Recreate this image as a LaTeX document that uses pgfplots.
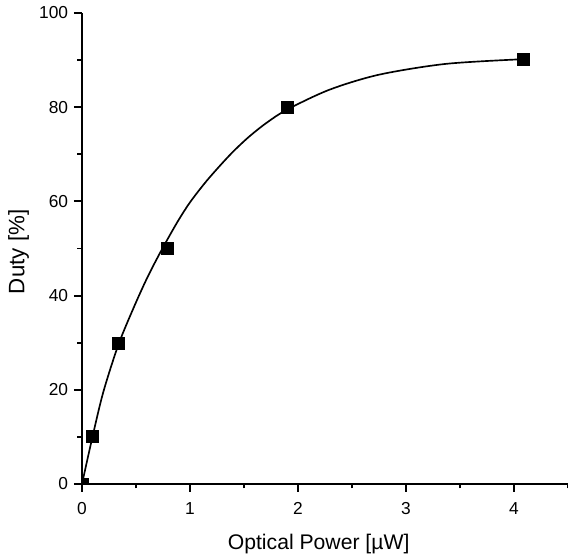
\documentclass[border=0pt]{standalone}
\usepackage{fontspec}
\setmainfont{Liberation Sans}
\usepackage{pgfplots}
\pgfplotsset{compat=1.18}
\begin{document}
\begin{tikzpicture}
\begin{axis}[
  scale only axis, width=291.6pt, height=282.6pt,
  xmin=0, xmax=4.5, ymin=0, ymax=100,
  axis x line=bottom, axis y line=left,
  axis line style={-, line width=1.1pt},
  xtick={0,1,2,3,4}, ytick={0,20,40,60,80,100},
  minor xtick={0.5,1.5,2.5,3.5,4.5}, minor ytick={10,30,50,70,90},
  tick align=outside, major tick length=4.8pt, minor tick length=2.7pt,
  every tick/.style={black, line width=1.1pt},
  /pgf/number format/assume math mode=true,
  tick label style={font=\fontsize{10.4}{12}\selectfont},
  xticklabel style={yshift=-3pt},
  xlabel={Optical Power [µW]}, ylabel={Duty [\%]},
  xlabel style={font=\fontsize{12.7}{14}\selectfont, at={(rel axis cs:0.5,0)}, anchor=base, yshift=-39.6pt, xshift=-3.8pt},
  ylabel style={font=\fontsize{13.4}{14}\selectfont, at={(rel axis cs:0,0.5)}, anchor=center, yshift=38.1pt, xshift=-2pt},
  clip marker paths=true,
  axis on top,
]
\coordinate (O) at (rel axis cs:0,0);
\addplot[black, line width=1pt, smooth, tension=0.5] coordinates {
  (0,0) (0.095,9.8) (0.197,19.5) (0.336,29.5) (0.474,37.2) (0.598,43.5)
  (0.721,49.0) (0.875,55.3) (1.0,59.8) (1.152,64.3) (1.306,68.3) (1.414,70.9)
  (1.55,73.8) (1.71,76.7) (1.9,79.5) (2.29,83.7) (2.75,86.9) (3.37,89.2) (4.09,90.2)
};
\addplot[only marks, mark=square*, mark size=3.6pt, black] coordinates {
  (0,0) (0.095,10.1) (0.336,29.8) (0.79,50.1) (1.9,80) (4.09,90.1)
};
\end{axis}
\pgfresetboundingbox
\path[use as bounding box] (O) ++(-49.2pt,-44.4pt) rectangle ++(340.8pt,334.8pt);
\end{tikzpicture}
\end{document}
